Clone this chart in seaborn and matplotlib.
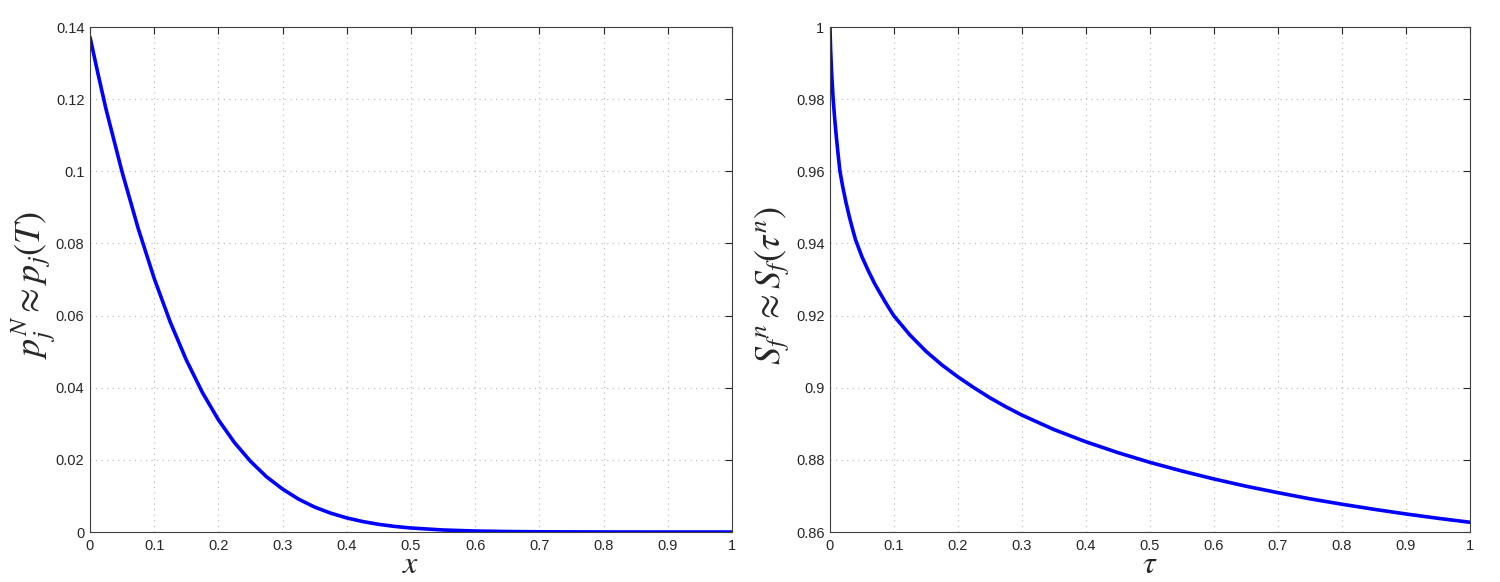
import matplotlib
matplotlib.use("Agg")
import matplotlib.pyplot as plt
import seaborn as sns
import pandas as pd

# ---- data ----
x_left = [0.0, 0.0125, 0.025, 0.05, 0.075, 0.1, 0.125, 0.15, 0.175, 0.2, 0.225,
          0.25, 0.275, 0.3, 0.325, 0.35, 0.375, 0.4, 0.425, 0.45, 0.475, 0.5,
          0.55, 0.6, 0.65, 0.7, 0.8, 0.9, 1.0]
p_left = [0.1372, 0.1270, 0.1172, 0.0998, 0.0842, 0.0703, 0.0582, 0.0477,
          0.0387, 0.0311, 0.0248, 0.0196, 0.0153, 0.0119, 0.0091, 0.0069,
          0.00522, 0.00390, 0.00289, 0.00212, 0.00154, 0.00111, 0.00056,
          0.00027, 0.00013, 0.00006, 0.00001, 0.0, 0.0]

tau_right = [0.0, 0.001, 0.0025, 0.005, 0.0075, 0.01, 0.0125, 0.0156, 0.02,
             0.025, 0.03, 0.035, 0.04, 0.05, 0.06, 0.07, 0.08, 0.09, 0.1,
             0.125, 0.15, 0.175, 0.2, 0.225, 0.25, 0.275, 0.3, 0.35, 0.4,
             0.45, 0.5, 0.55, 0.6, 0.65, 0.7, 0.75, 0.8, 0.85, 0.9, 0.95, 1.0]
s_right = [1.0, 0.994, 0.9877, 0.980, 0.9744, 0.9695, 0.9651, 0.960, 0.9557,
           0.9514, 0.9476, 0.9442, 0.9410, 0.9363, 0.9324, 0.9288, 0.9257,
           0.9227, 0.9199, 0.9146, 0.9101, 0.9063, 0.9030, 0.9000, 0.8972,
           0.8947, 0.8924, 0.8884, 0.8850, 0.8820, 0.8793, 0.8769, 0.8747,
           0.8727, 0.8709, 0.8692, 0.8677, 0.8663, 0.8650, 0.8638, 0.8627]

x_ticks = [0, 0.1, 0.2, 0.3, 0.4, 0.5, 0.6, 0.7, 0.8, 0.9, 1.0]
x_ticklabels = ["0", "0.1", "0.2", "0.3", "0.4", "0.5", "0.6", "0.7", "0.8", "0.9", "1"]
left_yticks = [0, 0.02, 0.04, 0.06, 0.08, 0.1, 0.12, 0.14]
left_yticklabels = ["0", "0.02", "0.04", "0.06", "0.08", "0.1", "0.12", "0.14"]
right_yticks = [0.86, 0.88, 0.9, 0.92, 0.94, 0.96, 0.98, 1.0]
right_yticklabels = ["0.86", "0.88", "0.9", "0.92", "0.94", "0.96", "0.98", "1"]

left_xlabel = r"$x$"
left_ylabel = r"$p_j^N \approx p_j(T)$"
right_xlabel = r"$\tau$"
right_ylabel = r"$S_f{}^n \approx S_f(\tau^n)$"

# ---- style ----
sns.set_style("white")
plt.rcParams["font.family"] = ["Liberation Sans", "DejaVu Sans"]
plt.rcParams["mathtext.fontset"] = "stix"

fig = plt.figure(figsize=(15, 5.82), dpi=100)
ax1 = fig.add_axes([0.06, 0.0859, 0.428, 0.8677])
ax2 = fig.add_axes([0.5533, 0.0859, 0.4267, 0.8677])

df_l = pd.DataFrame({"x": x_left, "p": p_left})
df_r = pd.DataFrame({"tau": tau_right, "S": s_right})

sns.lineplot(data=df_l, x="x", y="p", ax=ax1, color="#0000ff", linewidth=2.6)
sns.lineplot(data=df_r, x="tau", y="S", ax=ax2, color="#0000ff", linewidth=2.6)

for ax, yt, ytl, xl, yl, ylim, lx in [
    (ax1, left_yticks, left_yticklabels, left_xlabel, left_ylabel, (0, 0.14), -0.05),
    (ax2, right_yticks, right_yticklabels, right_xlabel, right_ylabel, (0.86, 1.0), -0.06),
]:
    ax.set_xlim(0, 1)
    ax.set_ylim(*ylim)
    ax.set_xticks(x_ticks)
    ax.set_xticklabels(x_ticklabels)
    ax.set_yticks(yt)
    ax.set_yticklabels(ytl)
    ax.grid(True, color="#b8b8b8", linestyle=(0, (1, 4)), linewidth=0.8)
    ax.tick_params(direction="in", length=5, width=0.8, colors="#262626",
                   labelsize=10.5, top=True, right=True, pad=4)
    ax.tick_params(axis="x", pad=5)
    for s in ax.spines.values():
        s.set_visible(True)
        s.set_color("#404040")
        s.set_linewidth(0.8)
    ax.set_xlabel(xl, fontsize=23, labelpad=-2)
    ax.set_ylabel(yl, fontsize=26)
    ax.yaxis.set_label_coords(lx, 0.489)

fig.savefig("out.png", dpi=100)
